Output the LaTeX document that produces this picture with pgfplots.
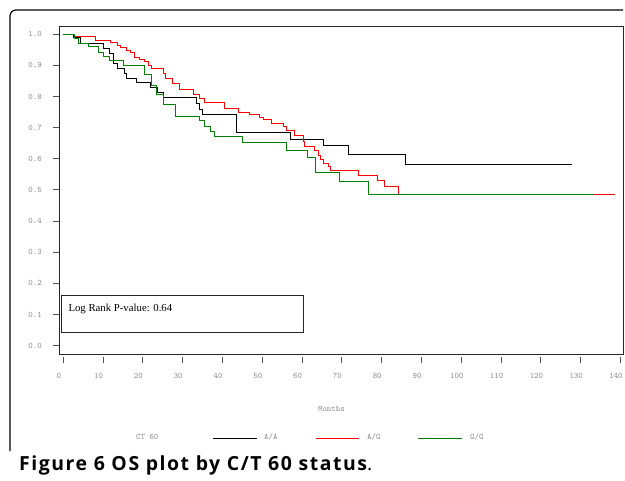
\documentclass[border=0pt]{standalone}
\usepackage{pgfplots}
\pgfplotsset{compat=1.18}
\usepackage{fontspec}
\setmainfont{Liberation Serif}
\newfontfamily\capfont[LetterSpace=8]{Open Sans}
\definecolor{lblgray}{HTML}{8C8C8C}
\definecolor{tickgray}{HTML}{555555}
\definecolor{kmgreen}{HTML}{008000}
\newcommand{\lblfont}{\ttfamily\fontsize{8.5}{10}\selectfont}
\begin{document}
\begin{tikzpicture}
\path[use as bounding box] (0bp,0bp) rectangle (625bp,-481bp);
\draw[line width=1.2bp, rounded corners=6bp] (10bp,-451bp) -- (10bp,-10bp) -- (623bp,-10bp);
\begin{axis}[
  at={(59.3bp,-354.3bp)}, anchor=south west,
  scale only axis, width=564.2bp, height=327.8bp,
  xmin=-1.005, xmax=140.75, ymin=-0.0276, ymax=1.0247,
  axis line style={draw=black!85, line width=1bp},
  tick style={draw=tickgray, line width=1bp},
  major tick length=6bp, tick align=outside,
  xtick pos=bottom, ytick pos=left,
  xtick={0,10,...,140}, ytick={0,0.1,...,1.0},
  xtick style={yshift=-3bp},
  /pgf/number format/assume math mode=true,
  ticklabel style={font=\lblfont, text=lblgray},
  yticklabel style={/pgf/number format/fixed, /pgf/number format/fixed zerofill, /pgf/number format/precision=1, xshift=-8bp},
  xticklabel style={yshift=-9bp, xshift=-4.5bp},
  xlabel={Months},
  xlabel style={font=\lblfont, text=lblgray, yshift=-21bp, xshift=-10bp},
  clip=false,
]
\addplot[const plot, black, line width=1bp] coordinates {
(0,1.0) (2.5,0.989) (4.2,0.969) (10.1,0.955) (11.7,0.939) (12.6,0.907) (13.6,0.891) (15.3,0.874) (15.8,0.858) (18.4,0.844) (21.8,0.828) (23.6,0.812) (25.1,0.796) (33.5,0.776) (34.3,0.759) (34.9,0.741) (43.6,0.685) (57.0,0.663) (65.3,0.642) (71.6,0.614) (86.1,0.582) (127.8,0.582)
};
\addplot[const plot, red, line width=1bp] coordinates {
(0,1.0) (2.9,0.994) (8.2,0.979) (11.9,0.973) (13.6,0.965) (14.4,0.958) (15.9,0.949) (17.0,0.942) (18.0,0.926) (19.1,0.919) (20.3,0.912) (21.4,0.901) (22.2,0.891) (25.3,0.874) (25.7,0.858) (27.5,0.842) (29.3,0.821) (32.7,0.805) (34.2,0.794) (35.4,0.781) (40.6,0.760) (44.0,0.749) (46.9,0.743) (49.3,0.733) (50.3,0.725) (52.4,0.714) (55.3,0.703) (56.1,0.690) (58.2,0.676) (60.3,0.655) (60.7,0.641) (63.2,0.628) (64.1,0.612) (64.7,0.598) (65.3,0.585) (66.6,0.575) (67.2,0.561) (74.1,0.545) (78.9,0.529) (80.6,0.510) (84.2,0.484) (138.6,0.484)
};
\addplot[const plot, kmgreen, line width=1bp] coordinates {
(0,1.0) (2.7,0.987) (3.8,0.971) (6.3,0.96) (8.8,0.942) (10.1,0.93) (11.7,0.914) (15.1,0.898) (20.3,0.871) (22.2,0.835) (23.5,0.808) (25.1,0.773) (28.1,0.737) (34.2,0.722) (35.6,0.705) (36.9,0.689) (38.1,0.671) (45.1,0.652) (56.1,0.628) (61.3,0.604) (63.4,0.555) (69.3,0.527) (76.7,0.487) (133.1,0.487)
};
\draw[black!85, line width=0.9bp] (axis cs:-0.58,0.041) rectangle (axis cs:60.3,0.1605);
\node[anchor=base west, font=\fontsize{10.8}{12}\selectfont, inner sep=0pt] at (axis cs:1.26,0.111) {Log Rank P-value: 0.64};
\end{axis}
\node[anchor=base west, font=\lblfont, text=lblgray, inner sep=0pt] at (136bp,-439.5bp) {CT 60};
\draw[black, line width=1bp] (213bp,-438.3bp) -- (257bp,-438.3bp);
\node[anchor=base west, font=\lblfont, text=lblgray, inner sep=0pt] at (264bp,-439.5bp) {A/A};
\draw[red, line width=1bp] (316bp,-438.3bp) -- (359bp,-438.3bp);
\node[anchor=base west, font=\lblfont, text=lblgray, inner sep=0pt] at (367bp,-439.5bp) {A/G};
\draw[kmgreen, line width=1bp] (418bp,-438.3bp) -- (462bp,-438.3bp);
\node[anchor=base west, font=\lblfont, text=lblgray, inner sep=0pt] at (470bp,-439.5bp) {G/G};
\node[anchor=base west, font=\capfont\fontsize{19.5}{22}\selectfont, inner sep=0pt] at (19bp,-470bp) {\textbf{Figure 6 OS plot by C/T 60 status}.};
\end{tikzpicture}
\end{document}
